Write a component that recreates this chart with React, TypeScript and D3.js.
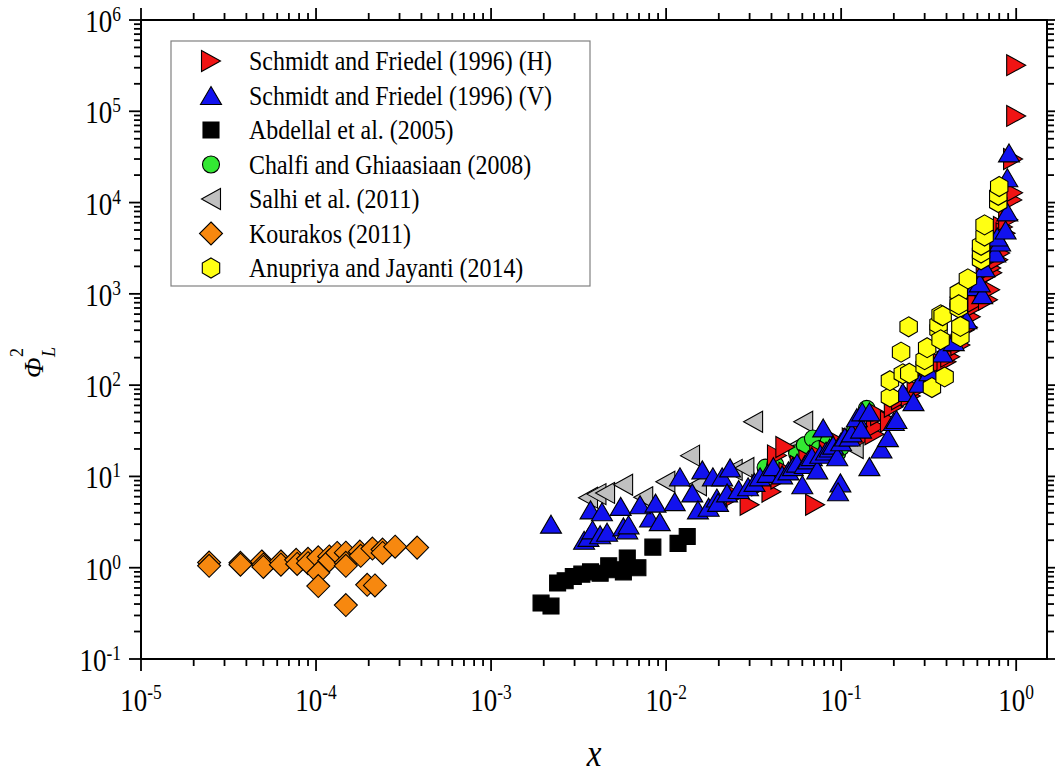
import React from "react";
import * as d3 from "d3";

type Pt = [number, number];

// x (quality) vs two-phase multiplier, one array per data source
const schmidtH: Pt[] = [
  [0.025, 6.2], [0.03, 4.9], [0.035, 8.0], [0.04, 6.8], [0.043, 17], [0.045, 9.5], [0.048, 21],
  [0.05, 11], [0.058, 13], [0.065, 15], [0.071, 4.9], [0.075, 17], [0.085, 19], [0.1, 23],
  [0.115, 26], [0.13, 30], [0.14, 28], [0.155, 29], [0.158, 35], [0.167, 47], [0.19, 40],
  [0.2, 58], [0.22, 70], [0.25, 76], [0.27, 89], [0.3, 109], [0.34, 130], [0.37, 176],
  [0.4, 180], [0.42, 205], [0.44, 290], [0.48, 275], [0.51, 404], [0.53, 430], [0.55, 560],
  [0.565, 700], [0.6, 820], [0.66, 1050], [0.69, 862], [0.71, 1110], [0.67, 1550], [0.73, 1700],
  [0.72, 1920], [0.79, 2360], [0.81, 2800], [0.84, 5400], [0.87, 4600], [0.9, 6500],
  [0.95, 10700], [0.96, 12800], [0.96, 30000], [1.0, 89000], [1.0, 320000],
];

const schmidtV: Pt[] = [
  [2.2e-3, 3.0],
  [3.4e-3, 2.0], [3.6e-3, 2.15], [3.8e-3, 2.6], [4.2e-3, 2.3], [4.6e-3, 2.45], [5.7e-3, 2.8],
  [6.0e-3, 2.6], [6.1e-3, 2.95], [8.1e-3, 3.5], [9.2e-3, 3.2],
  [3.7e-3, 4.3], [4.3e-3, 4.1], [5.5e-3, 4.7], [7.1e-3, 4.9], [8.7e-3, 5.1], [1.12e-2, 5.3],
  [1.2e-2, 9.9], [1.41e-2, 6.6], [1.52e-2, 4.3], [1.61e-2, 11.8], [1.75e-2, 4.6], [1.85e-2, 9.9],
  [1.95e-2, 5.8], [1.98e-2, 5.2], [2.09e-2, 9.9], [2.23e-2, 6.6], [2.32e-2, 12.4], [2.6e-2, 7.2],
  [2.94e-2, 7.7], [3.2e-2, 8.6], [3.44e-2, 9.9], [3.8e-2, 10.8], [4.1e-2, 12.8], [4.6e-2, 10.4],
  [5.0e-2, 11.5], [5.3e-2, 12.8], [5.6e-2, 14], [6.0e-2, 8.1], [6.2e-2, 13.5], [6.5e-2, 15.2],
  [6.8e-2, 16.5], [7.3e-2, 11.8], [7.6e-2, 17.5], [7.9e-2, 34], [8.2e-2, 19], [8.6e-2, 20.5],
  [9.0e-2, 22], [9.5e-2, 16.4], [9.9e-2, 8.5], [9.6e-2, 6.8], [0.1, 24], [0.105, 27],
  [0.112, 27], [0.115, 30], [0.123, 44], [0.13, 33], [0.132, 51], [0.145, 51], [0.145, 12.8],
  [0.17, 20], [0.185, 26.6], [0.2, 40], [0.207, 42], [0.225, 83], [0.259, 66], [0.28, 105],
  [0.32, 140], [0.38, 225], [0.44, 300], [0.52, 520], [0.58, 1200], [0.64, 980], [0.62, 1320],
  [0.66, 1930], [0.76, 2800], [0.81, 3700], [0.78, 4200], [0.87, 5000], [0.89, 7900],
  [0.89, 18700], [0.91, 35000],
];

const abdellal: Pt[] = [
  [1.93e-3, 0.41], [2.2e-3, 0.38], [2.4e-3, 0.68], [2.65e-3, 0.72], [2.95e-3, 0.8], [3.3e-3, 0.85],
  [3.7e-3, 0.9], [4.2e-3, 0.87], [4.7e-3, 1.05], [5.1e-3, 0.95], [5.7e-3, 0.9], [6.0e-3, 1.28],
  [6.9e-3, 1.0], [8.4e-3, 1.68], [1.17e-2, 1.85], [1.32e-2, 2.2],
];

const chalfi: Pt[] = [
  [0.037, 12.5], [0.042, 13.5], [0.056, 18], [0.062, 22], [0.069, 26], [0.075, 20], [0.085, 24],
  [0.095, 18], [0.1, 21], [0.12, 32], [0.14, 55],
];

const salhi: Pt[] = [
  [3.58e-3, 5.85], [4.0e-3, 6.4], [4.48e-3, 6.6], [5.68e-3, 8.1], [7.4e-3, 5.9], [9.9e-3, 8.75],
  [1.37e-2, 16.9], [1.5e-2, 8.0], [2.4e-2, 11.8], [2.8e-2, 12.4], [3.14e-2, 39.7], [5.3e-2, 20.5],
  [6.07e-2, 39.7], [0.118, 20.5],
];

const kourakos: Pt[] = [
  [2.45e-5, 1.14], [2.45e-5, 1.05], [3.7e-5, 1.13], [3.7e-5, 1.08], [4.9e-5, 1.17], [5.0e-5, 1.08],
  [5.0e-5, 1.02], [6.3e-5, 1.17], [6.3e-5, 1.08], [7.7e-5, 1.22], [7.8e-5, 1.1], [9.0e-5, 1.25],
  [9.0e-5, 1.12], [1.03e-4, 1.3], [1.03e-4, 0.88], [1.03e-4, 0.63], [1.19e-4, 1.33], [1.19e-4, 1.2],
  [1.32e-4, 1.45], [1.48e-4, 1.46], [1.48e-4, 1.13], [1.48e-4, 1.05], [1.48e-4, 0.39], [1.78e-4, 1.5],
  [1.8e-4, 1.35], [1.96e-4, 0.65], [2.1e-4, 1.62], [2.17e-4, 0.64], [2.4e-4, 1.58], [2.4e-4, 1.45],
  [2.83e-4, 1.7], [3.78e-4, 1.66],
];

const anupriya: Pt[] = [
  [0.19, 74], [0.19, 112], [0.225, 133], [0.245, 135], [0.22, 230], [0.243, 436], [0.3, 160],
  [0.3, 190], [0.31, 257], [0.33, 94], [0.36, 404], [0.36, 460], [0.37, 314], [0.37, 590],
  [0.38, 575], [0.39, 123], [0.47, 700], [0.47, 820], [0.47, 1030], [0.47, 760], [0.48, 340],
  [0.48, 440], [0.53, 1460], [0.63, 2360], [0.63, 2800], [0.63, 3400], [0.66, 4300], [0.66, 5700],
  [0.79, 10000], [0.79, 12000], [0.8, 15000],
];

const legendLabels = [
  "Schmidt and Friedel (1996) (H)",
  "Schmidt and Friedel (1996) (V)",
  "Abdellal et al. (2005)",
  "Chalfi and Ghiaasiaan (2008)",
  "Salhi et al. (2011)",
  "Kourakos (2011)",
  "Anupriya and Jayanti (2014)",
];

const xTickExponents = [-5, -4, -3, -2, -1, 0];
const yTickExponents = [-1, 0, 1, 2, 3, 4, 5, 6];

const WIDTH = 1055;
const HEIGHT = 776;
const PLOT = { left: 141, right: 1047, top: 20, bottom: 659 };
const FONT = "Liberation Serif, Tinos, DejaVu Serif, Times New Roman, serif";
const SQUEEZE = 0.87;

const hexPath = (() => {
  const r = 10;
  const w = 8.7;
  return `M0,${-r}L${w},${-r / 2}L${w},${r / 2}L0,${r}L${-w},${r / 2}L${-w},${-r / 2}Z`;
})();

const SHAPES: Record<string, string> = {
  right: "M-9.5,-10.5L9.5,0L-9.5,10.5Z",
  left: "M9.5,-10.5L-9.5,0L9.5,10.5Z",
  up: "M0,-9L10.5,9L-10.5,9Z",
  square: "M-8,-8H8V8H-8Z",
  circle: d3.symbol(d3.symbolCircle, Math.PI * 8.5 * 8.5)() as string,
  diamond: "M0,-11.5L11.5,0L0,11.5L-11.5,0Z",
  hexagon: hexPath,
};

type Series = { label: string; data: Pt[]; shape: string; fill: string };

const legendSeries: Series[] = [
  { label: legendLabels[0], data: schmidtH, shape: "right", fill: "#F01414" },
  { label: legendLabels[1], data: schmidtV, shape: "up", fill: "#1212EE" },
  { label: legendLabels[2], data: abdellal, shape: "square", fill: "#000000" },
  { label: legendLabels[3], data: chalfi, shape: "circle", fill: "#33E833" },
  { label: legendLabels[4], data: salhi, shape: "left", fill: "#C0C0C0" },
  { label: legendLabels[5], data: kourakos, shape: "diamond", fill: "#F7880F" },
  { label: legendLabels[6], data: anupriya, shape: "hexagon", fill: "#FFFF12" },
];

// paint order: background sets first, the large sets on top
const drawOrder = [4, 3, 2, 5, 0, 1, 6];

const x = d3.scaleLog().domain([1e-5, 1.5]).range([PLOT.left, PLOT.right]);
const y = d3.scaleLog().domain([0.1, 1e6]).range([PLOT.bottom, PLOT.top]);

const isDecade = (v: number) => Math.abs(Math.log10(v) - Math.round(Math.log10(v))) < 1e-9;

function Squeezed(props: {
  x: number;
  y: number;
  anchor?: "start" | "middle" | "end";
  size: number;
  italic?: boolean;
  children: React.ReactNode;
}) {
  return (
    <g transform={`translate(${props.x},${props.y}) scale(${SQUEEZE},1)`}>
      <text
        textAnchor={props.anchor ?? "start"}
        style={{
          fontFamily: FONT,
          fontSize: `${props.size}px`,
          fontStyle: props.italic ? "italic" : "normal",
        }}
        fill="#000"
      >
        {props.children}
      </text>
    </g>
  );
}

function Marker({ shape, fill, cx, cy }: { shape: string; fill: string; cx: number; cy: number }) {
  return (
    <path
      d={SHAPES[shape]}
      transform={`translate(${cx},${cy})`}
      fill={fill}
      stroke="#000"
      strokeWidth={1.1}
      strokeLinejoin="miter"
    />
  );
}

export default function App() {
  const xTicks = x.ticks();
  const yTicks = y.ticks();
  const MAJOR = 12;
  const MINOR = 7;
  const tickW = 1.8;

  const legendX = 171;
  const legendY = 41;
  const rowGap = 34.5;

  return (
    <svg
      width={WIDTH}
      height={HEIGHT}
      viewBox={`0 0 ${WIDTH} ${HEIGHT}`}
      style={{ position: "absolute", left: 0, top: 0, background: "#fff" }}
    >
      <rect x={0} y={0} width={WIDTH} height={HEIGHT} fill="#fff" />

      {/* data */}
      <g>
        {drawOrder.map((si) => {
          const s = legendSeries[si];
          return (
            <g key={s.label}>
              {s.data.map((d, i) => (
                <Marker key={i} shape={s.shape} fill={s.fill} cx={x(d[0])} cy={y(d[1])} />
              ))}
            </g>
          );
        })}
      </g>

      {/* frame */}
      <rect
        x={PLOT.left}
        y={PLOT.top}
        width={PLOT.right - PLOT.left}
        height={PLOT.bottom - PLOT.top}
        fill="none"
        stroke="#000"
        strokeWidth={2}
      />

      {/* ticks on all four sides, pointing outward */}
      <g stroke="#000" strokeWidth={tickW}>
        {xTicks.map((t, i) => {
          const len = isDecade(t) ? MAJOR : MINOR;
          const px = x(t);
          return (
            <g key={i}>
              <line x1={px} x2={px} y1={PLOT.bottom} y2={PLOT.bottom + len} />
              <line x1={px} x2={px} y1={PLOT.top} y2={PLOT.top - len} />
            </g>
          );
        })}
        {yTicks.map((t, i) => {
          const len = isDecade(t) ? MAJOR : MINOR;
          const py = y(t);
          return (
            <g key={i}>
              <line x1={PLOT.left} x2={PLOT.left - len} y1={py} y2={py} />
              <line x1={PLOT.right} x2={PLOT.right + len} y1={py} y2={py} />
            </g>
          );
        })}
      </g>

      {/* tick labels */}
      {xTickExponents.map((p) => (
        <Squeezed key={p} x={x(Math.pow(10, p))} y={711} anchor="middle" size={31}>
          <tspan>10</tspan>
          <tspan style={{ fontSize: "20px" }} dy={-12}>{String(p)}</tspan>
        </Squeezed>
      ))}
      {yTickExponents.map((p) => (
        <Squeezed key={p} x={121} y={y(Math.pow(10, p)) + 12} anchor="end" size={31}>
          <tspan>10</tspan>
          <tspan style={{ fontSize: "20px" }} dy={-11}>{String(p)}</tspan>
        </Squeezed>
      ))}

      {/* axis titles */}
      <Squeezed x={(PLOT.left + PLOT.right) / 2} y={766} anchor="middle" size={38} italic>
        x
      </Squeezed>
      <g transform="translate(43,378) rotate(-90)" style={{ fontFamily: FONT }}>
        <text x={0} y={0} style={{ fontSize: "27px", fontStyle: "italic" }}>Φ</text>
        <text x={21} y={-20} style={{ fontSize: "18px" }}>2</text>
        <text x={21} y={12} style={{ fontSize: "18px", fontStyle: "italic" }}>L</text>
      </g>

      {/* legend */}
      <rect
        x={legendX}
        y={legendY}
        width={419}
        height={245}
        fill="#fff"
        stroke="#808080"
        strokeWidth={1.2}
      />
      {legendSeries.map((s, i) => {
        const cy = legendY + 20 + i * rowGap;
        return (
          <g key={s.label}>
            <Marker shape={s.shape} fill={s.fill} cx={211} cy={cy} />
            <Squeezed x={249} y={cy + 9} size={27.5}>
              {s.label}
            </Squeezed>
          </g>
        );
      })}
    </svg>
  );
}
